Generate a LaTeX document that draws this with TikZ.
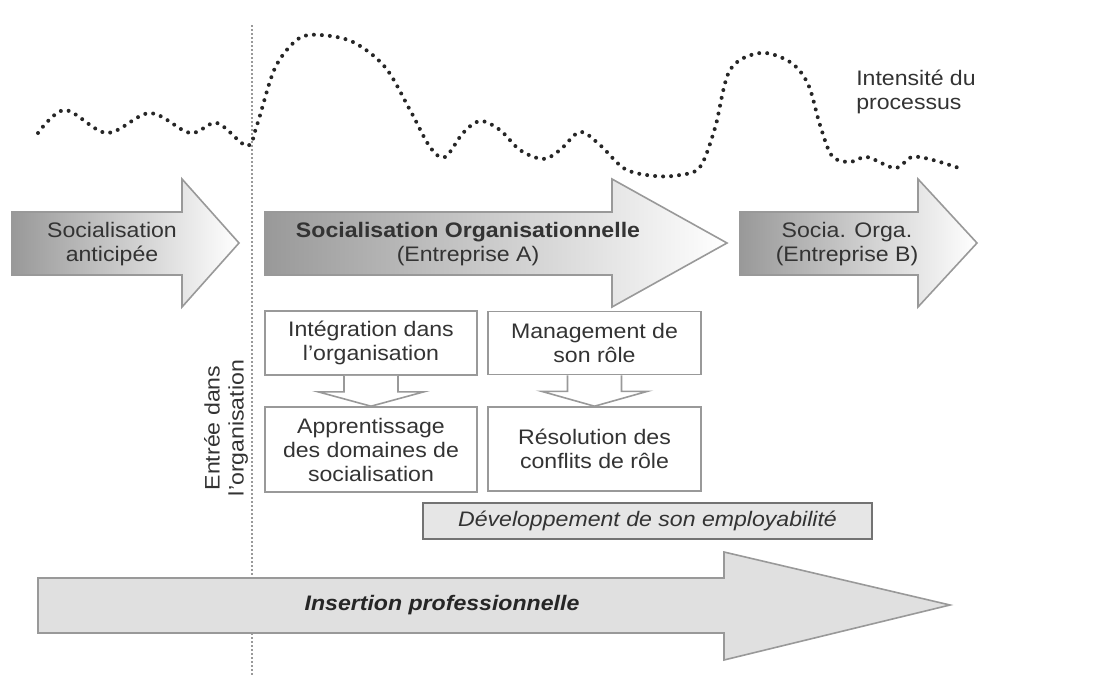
\documentclass[tikz,border=0pt]{standalone}
\usepackage{fontspec}
\setmainfont{Liberation Sans}[FakeStretch=1.1]
\usetikzlibrary{calc}
\definecolor{txt}{HTML}{333333}
\definecolor{edge}{HTML}{999999}
\definecolor{devfill}{HTML}{E6E6E6}
\definecolor{insfill}{HTML}{E0E0E0}
\definecolor{dotc}{HTML}{262626}
\newcommand{\apos}{\char"0027\relax}
\begin{document}
\begin{tikzpicture}[x=0.75pt,y=-0.75pt,
  every node/.style={font=\fontsize{15.75}{18}\selectfont, text=txt, inner sep=0pt},
  bigarrow/.style={draw=edge, line width=1.2pt, line join=miter, left color=black!40, right color=white},
  box/.style={draw=edge, line width=1.2pt, fill=white, align=center},
  smallarrow/.style={draw=edge, line width=1.2pt, fill=white, line join=miter},
  intensity/.style={draw=dotc, line width=3pt, line cap=round, dash pattern=on 0pt off 6pt},
  entryline/.style={draw=edge, line width=0.8pt, dash pattern=on 1.5pt off 1.5pt}
]
\useasboundingbox (0,0) rectangle (1093,697);

% entry line
\coordinate (ltop) at (252,25);
\coordinate (lbot) at (252,675);
\draw[entryline] (ltop) -- (lbot);

% intensity curve
\draw[intensity] plot[smooth, tension=0.55] coordinates {
 (38,133) (65,110) (107,133) (150,113) (190,133) (217,123) (247,146)
 (257,125) (275,68) (298,39) (320,35) (353,42) (385,67) (410,110) (430,147)
 (445,157) (463,133) (480,121) (500,130) (520,150) (543,159) (560,150)
 (580,132) (600,145) (625,169) (655,176) (680,175) (700,167) (715,128)
 (730,70) (760,53) (790,62) (808,84) (820,125) (832,156) (850,162)
 (867,157) (895,168) (912,157) (933,160) (962,169)};
\node[anchor=west, align=left] (intens) at (856,92) {Intensité du\\processus};

% big arrows
\draw[bigarrow] (12,212) -- (182,212) -- (182,179) -- (239,243) -- (182,307) -- (182,275) -- (12,275) -- cycle;
\draw[bigarrow] (265,212) -- (612,212) -- (612,179) -- (727,243) -- (612,307) -- (612,275) -- (265,275) -- cycle;
\draw[bigarrow] (740,212) -- (918,212) -- (918,179) -- (977,243) -- (918,307) -- (918,275) -- (740,275) -- cycle;

\node[align=center] (antic) at (112,244) {Socialisation\\anticipée};
\node[align=center] (orgA) at (468,244) {\textbf{Socialisation Organisationnelle}\\(Entreprise A)};
\node[align=center] (orgB) at (847,244) {Socia. Orga.\\(Entreprise B)};

% boxes
\node[box, minimum width=159pt, minimum height=48pt] (b1) at (371,343) {Intégration dans\\l\apos organisation};
\node[box, minimum width=159pt, minimum height=63.75pt] (b3) at (371,449.5) {Apprentissage\\des domaines de\\socialisation};
\node[box, minimum width=159.75pt, minimum height=47.25pt] (b2) at (594.5,343) {Management de\\son rôle};
\node[box, minimum width=159.75pt, minimum height=63pt] (b4) at (594.5,449) {Résolution des\\conflits de rôle};

\draw[smallarrow] ($(b1.south)+(-27,0)$) -- ($(b1.south)+(-27,16)$) -- ($(b1.south)+(-53,16)$) -- (b3.north)
  -- ($(b1.south)+(53,16)$) -- ($(b1.south)+(27,16)$) -- ($(b1.south)+(27,0)$);
\draw[smallarrow] ($(b2.south)+(-27,0)$) -- ($(b2.south)+(-27,16)$) -- ($(b2.south)+(-53,16)$) -- (b4.north)
  -- ($(b2.south)+(53,16)$) -- ($(b2.south)+(27,16)$) -- ($(b2.south)+(27,0)$);

% development box
\node[draw=black!55, line width=1pt, fill=devfill, minimum width=336.75pt, minimum height=27pt,
      font=\fontsize{15.75}{18}\selectfont\itshape] (dev) at (647.5,521) {Développement de son employabilité};

% insertion arrow
\draw[draw=edge, line width=1.2pt, fill=insfill, line join=miter]
  (38,578) -- (724,578) -- (724,552) -- (950,605) -- (724,660) -- (724,633) -- (38,633) -- cycle;
\node[font=\fontsize{15.75}{18}\selectfont\bfseries\itshape, text=black!85] (ins) at (442,605) {Insertion professionnelle};

% entry label
\node[rotate=90, align=center] (entree) at (226,428) {Entrée dans\\l\apos organisation};
\end{tikzpicture}
\end{document}
